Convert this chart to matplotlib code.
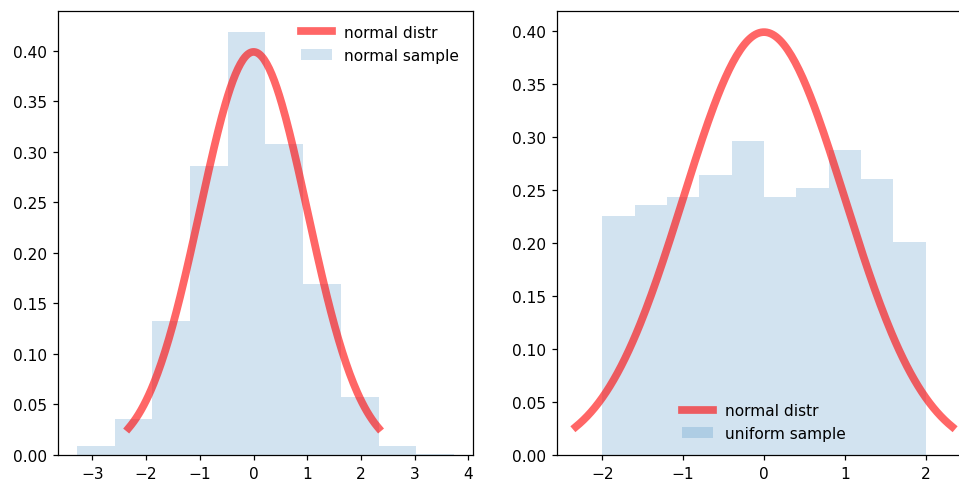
import numpy as np
import matplotlib
matplotlib.use("Agg")
import matplotlib.pyplot as plt

# normal pdf (curve) range: ppf(0.01)..ppf(0.99)
pdf_lo, pdf_hi = -2.3263, 2.3263

# left histogram (normal sample), density heights
normal_edges = [-3.29, -2.588, -1.886, -1.183, -0.481, 0.221, 0.924, 1.626, 2.328, 3.031, 3.733]
normal_heights = [0.0085, 0.0356, 0.1325, 0.2857, 0.4185, 0.3076, 0.1695, 0.0570, 0.0085, 0.0014]

# right histogram (uniform sample), density heights
uniform_edges = [-2.0, -1.6, -1.2, -0.8, -0.4, 0.0, 0.4, 0.8, 1.2, 1.6, 2.0]
uniform_heights = [0.225, 0.236, 0.2435, 0.264, 0.296, 0.2435, 0.2515, 0.288, 0.2605, 0.2005]

x = np.linspace(pdf_lo, pdf_hi, 200)
pdf = np.exp(-x**2 / 2) / np.sqrt(2 * np.pi)

DPI = 111
W, H = 959, 481
fig = plt.figure(figsize=(W / DPI, H / DPI), dpi=DPI)
ax1 = fig.add_axes([58 / W, (H - 456) / H, 415 / W, 444 / H])
ax2 = fig.add_axes([557 / W, (H - 456) / H, 414 / W, 444 / H])

def draw(ax, edges, heights, label, loc):
    ax.plot(x, pdf, 'r-', lw=5, alpha=0.6, label='normal distr')
    e = np.array(edges)
    centers = (e[:-1] + e[1:]) / 2
    ax.hist(centers, bins=e, weights=heights, alpha=0.2, label=label)
    ax.legend(loc=loc, frameon=False)

draw(ax1, normal_edges, normal_heights, 'normal sample', 'upper right')
draw(ax2, uniform_edges, uniform_heights, 'uniform sample', 'lower center')

fig.savefig('out.png', dpi=DPI)
